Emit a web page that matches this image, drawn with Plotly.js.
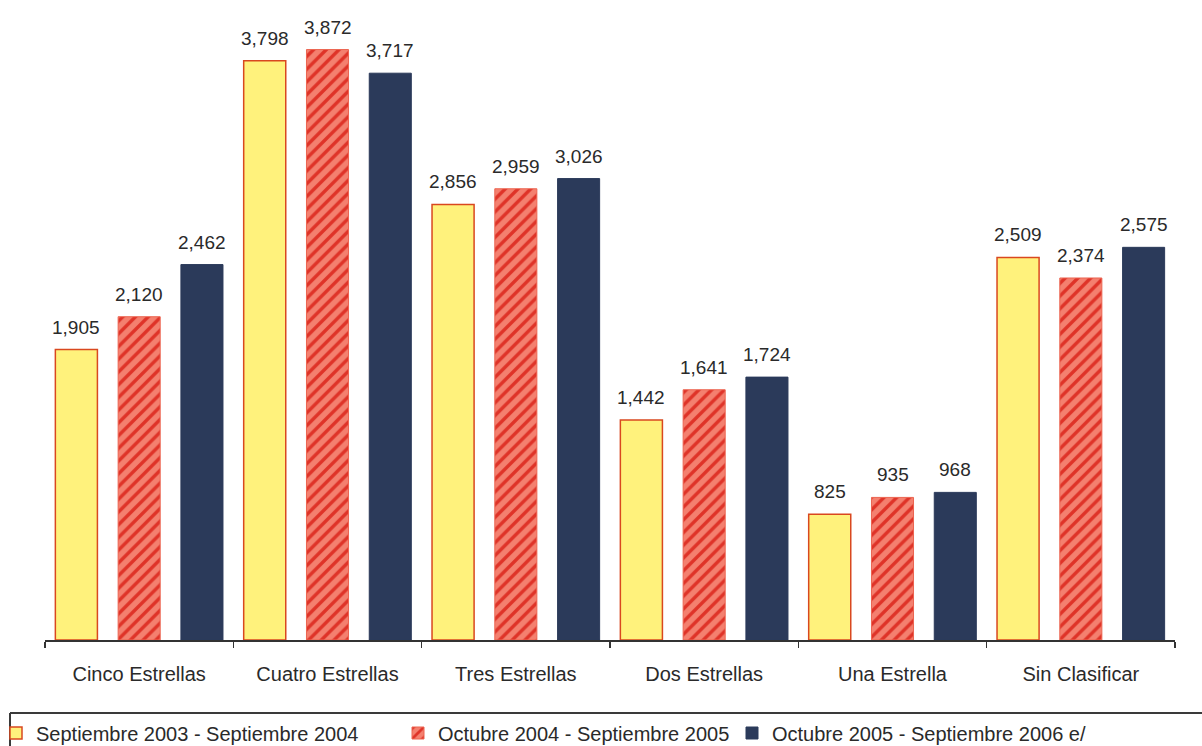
<!DOCTYPE html>
<html>
<head>
<meta charset="utf-8">
<script src="https://cdn.plot.ly/plotly-3.0.1.min.js"></script>
<style>html,body{margin:0;padding:0;background:#fff;}#chart{width:1202px;height:746px;}</style>
</head>
<body>
<div id="chart"></div>
<script>
var categories = ["Cinco Estrellas","Cuatro Estrellas","Tres Estrellas","Dos Estrellas","Una Estrella","Sin Clasificar"];
var seriesNames = ["Septiembre 2003 - Septiembre 2004","Octubre 2004 - Septiembre 2005","Octubre 2005 - Septiembre 2006 e/"];
var s2003 = [1905,3798,2856,1442,825,2509];
var s2004 = [2120,3872,2959,1641,935,2374];
var s2005 = [2462,3717,3026,1724,968,2575];

var W = 1202, H = 746;
var mL = 45, mR = 27, mT = 0, mB = 106;
var plotW = W - mL - mR, plotH = H - mT - mB;
function px2x(p){ return (p - mL) / plotW; }
function px2y(p){ return (mT + plotH - p) / plotH; }

var font = "Liberation Sans, Arial, sans-serif";
var txt = "#2a2a2a";

var t1 = {type:"bar", name:seriesNames[0], x:categories, y:s2003, legend:"legend",
  marker:{color:"#fff27c", line:{color:"#d9481f", width:1.5}}, hoverinfo:"none"};
var t2 = {type:"bar", name:seriesNames[1], x:categories, y:s2004, legend:"legend2",
  marker:{color:"#f27b6b", line:{color:"#ec6450", width:1},
    pattern:{shape:"/", bgcolor:"#f4806f", fgcolor:"#df3328", size:9, solidity:0.38}}, hoverinfo:"none"};
var t3 = {type:"bar", name:seriesNames[2], x:categories, y:s2005, legend:"legend3",
  marker:{color:"#2b3a5a", line:{color:"#2b3a5a", width:1}}, hoverinfo:"none"};

var slot = plotW / categories.length / 3;
var annotations = [];
[s2003, s2004, s2005].forEach(function(arr, i){
  arr.forEach(function(v, j){
    annotations.push({x:categories[j], y:v, xref:"x", yref:"y", xshift:(i-1)*slot, yshift:10,
      text:v.toLocaleString("en-US"), showarrow:false, yanchor:"bottom", xanchor:"center",
      font:{family:font, size:19, color:txt}});
  });
});

function leg(xp){
  return {x:px2x(xp), y:px2y(733), xanchor:"left", yanchor:"middle", orientation:"h",
    bgcolor:"rgba(0,0,0,0)", borderwidth:0, font:{family:font, size:20, color:txt}, itemwidth:30};
}

var layout = {
  width:W, height:H,
  margin:{l:mL, r:mR, t:mT, b:mB, pad:0, autoexpand:false},
  paper_bgcolor:"#ffffff", plot_bgcolor:"#ffffff",
  barmode:"group", bargap:0, bargroupgap:0.33,
  showlegend:true,
  legend:leg(-4), legend2:leg(398), legend3:leg(732),
  xaxis:{type:"category", range:[-0.5,5.5], showline:true, linecolor:"#333", linewidth:1.5,
    ticks:"outside", tickson:"boundaries", ticklen:6, tickcolor:"#333", tickwidth:1.5,
    ticklabelstandoff:15,
    showgrid:false, zeroline:false, tickfont:{family:font, size:20, color:txt}, fixedrange:true},
  yaxis:{visible:false, range:[0,4197], showgrid:false, zeroline:false, fixedrange:true},
  annotations:annotations,
  shapes:[
    {type:"line", xref:"paper", yref:"paper", x0:px2x(10), x1:px2x(1202), y0:px2y(713), y1:px2y(713),
      line:{color:"#3a3a3a", width:2}, layer:"above"},
    {type:"line", xref:"paper", yref:"paper", x0:px2x(10), x1:px2x(10), y0:px2y(713), y1:px2y(746),
      line:{color:"#3a3a3a", width:2}, layer:"above"}
  ]
};

Plotly.newPlot("chart", [t1,t2,t3], layout, {displayModeBar:false, staticPlot:true});
</script>
</body>
</html>
